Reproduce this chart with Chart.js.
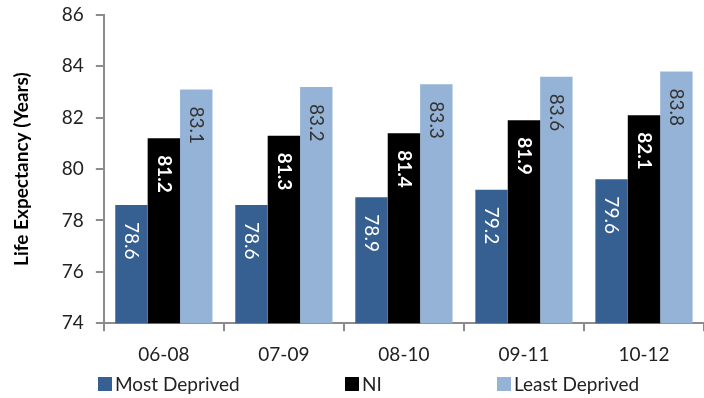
<!DOCTYPE html>
<html>
<head>
<meta charset="utf-8">
<script src="https://cdn.jsdelivr.net/npm/chart.js@4"></script>
<style>
  body { margin: 0; background: #fff; }
  #wrap { position: relative; width: 704px; height: 398px; }
  #legend { position: absolute; left: 98px; top: 372px; display: flex; font: 19px Lato; color: #222; }
  #legend .item { display: flex; align-items: center; }
  #legend .box { width: 14px; height: 14px; margin-right: 3px; }
</style>
</head>
<body>
<div id="wrap">
  <canvas id="lifeChart"></canvas>
  <div id="legend"></div>
</div>
<script>
// life expectancy by period
const periods = ["06-08", "07-09", "08-10", "09-11", "10-12"];
const mostDeprived = [78.6, 78.6, 78.9, 79.2, 79.6];
const ni = [81.2, 81.3, 81.4, 81.9, 82.1];
const leastDeprived = [83.1, 83.2, 83.3, 83.6, 83.8];
const yTicks = [74, 76, 78, 80, 82, 84, 86];

const font = "Lato";
const axisGrey = "#8c8c8c";
const legendWidths = [247, 152, 200];

// writes the value down inside the top of each bar
const barLabels = {
  id: "barLabels",
  afterDatasetsDraw(chart) {
    let ctx = chart.ctx;
    chart.data.datasets.forEach((ds, i) => {
      let meta = chart.getDatasetMeta(i);
      meta.data.forEach((bar, j) => {
        ctx.save();
        ctx.translate(bar.x, bar.y + 17);
        ctx.rotate(Math.PI / 2);
        ctx.font = (i == 1 ? "bold " : "") + "19px " + font;
        ctx.fillStyle = ds.labelColor;
        ctx.textAlign = "left";
        ctx.textBaseline = "middle";
        ctx.fillText(ds.data[j].toFixed(1), 0, 0);
        ctx.restore();
      });
    });
  }
};

let chart = new Chart("lifeChart", {
  type: "bar",
  data: {
    labels: periods,
    datasets: [
      { label: "Most Deprived", data: mostDeprived, backgroundColor: "#376092", labelColor: "#fff" },
      { label: "NI", data: ni, backgroundColor: "#000", labelColor: "#fff" },
      { label: "Least Deprived", data: leastDeprived, backgroundColor: "#95b3d7", labelColor: "#333" }
    ]
  },
  options: {
    responsive: true,
    maintainAspectRatio: false,
    animation: false,
    layout: { padding: { top: 0, right: -4, left: 0, bottom: 20 } },
    datasets: {
      bar: { categoryPercentage: 0.81, barPercentage: 1.0 }
    },
    plugins: {
      tooltip: { enabled: false },
      legend: { display: false }
    },
    scales: {
      x: {
        grid: { drawOnChartArea: false, offset: true, color: axisGrey, lineWidth: 2, tickLength: 8 },
        border: { color: axisGrey, width: 2 },
        ticks: { color: "#222", padding: 12, font: { family: font, size: 19 } }
      },
      y: {
        min: 74,
        max: 86,
        afterBuildTicks(axis) {
          axis.ticks = yTicks.map(v => ({ value: v }));
        },
        // top label only needs half its height above the plot
        afterFit(axis) {
          axis.paddingTop = 15;
        },
        grid: { drawOnChartArea: false, color: axisGrey, lineWidth: 2, tickLength: 8 },
        border: { color: axisGrey, width: 2 },
        ticks: { color: "#222", padding: 12, font: { family: font, size: 19 } },
        title: {
          display: true,
          text: "Life Expectancy (Years)",
          color: "#000",
          padding: { top: 10, bottom: 17 },
          font: { family: font, size: 19, weight: "bold" }
        }
      }
    }
  },
  plugins: [barLabels]
});

// html legend under the chart, built from the library's own legend items
let legendBox = document.getElementById("legend");
chart.options.plugins.legend.labels.generateLabels(chart).forEach((item, i) => {
  let el = document.createElement("div");
  el.className = "item";
  el.style.width = legendWidths[i] + "px";
  el.innerHTML = '<span class="box" style="background:' + item.fillStyle + '"></span>' + item.text;
  legendBox.appendChild(el);
});
</script>
</body>
</html>
